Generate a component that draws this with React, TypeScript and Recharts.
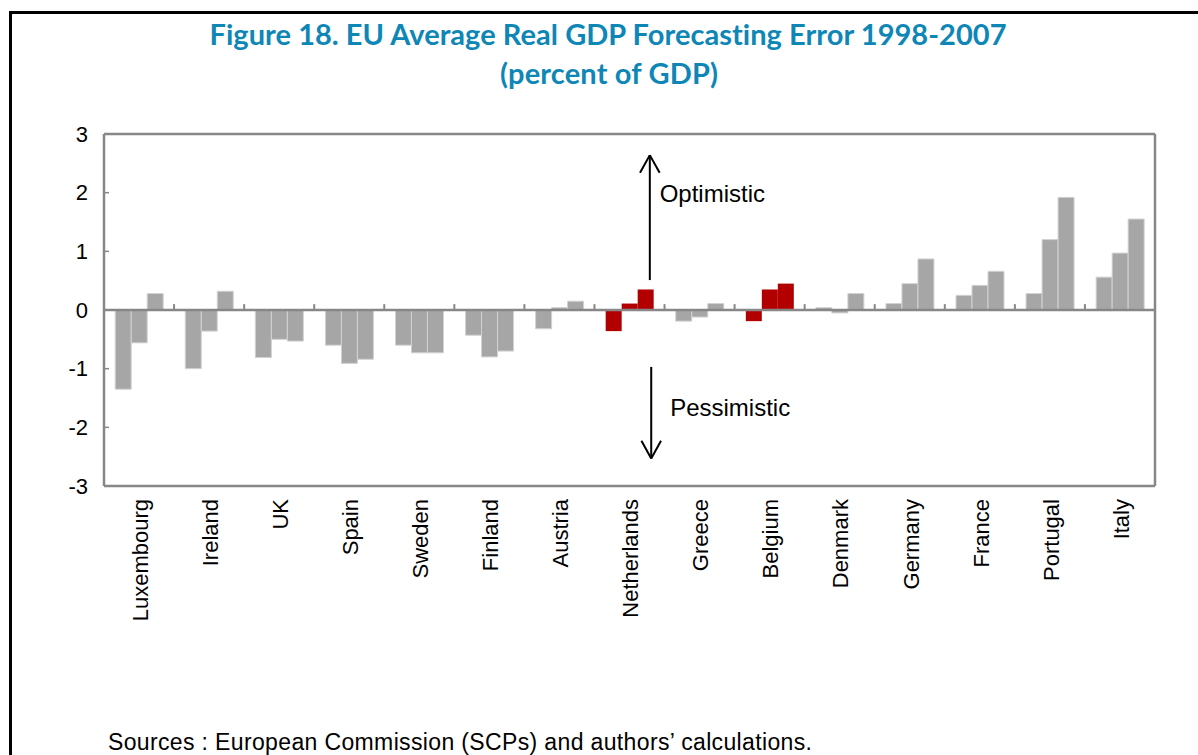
import React from 'react';
import {
  BarChart,
  Bar,
  Cell,
  XAxis,
  YAxis,
  ReferenceLine,
  ReferenceDot,
} from 'recharts';

// ---- data ----
const categories = [
  'Luxembourg', 'Ireland', 'UK', 'Spain', 'Sweden', 'Finland', 'Austria',
  'Netherlands', 'Greece', 'Belgium', 'Denmark', 'Germany', 'France', 'Portugal', 'Italy',
];
const horizon1 = [-1.35, -1.0, -0.81, -0.6, -0.6, -0.43, -0.32, -0.36, -0.19, -0.19, 0.04, 0.11, 0.25, 0.28, 0.56];
const horizon2 = [-0.56, -0.36, -0.5, -0.91, -0.73, -0.8, 0.04, 0.11, -0.12, 0.35, -0.05, 0.45, 0.42, 1.2, 0.97];
const horizon3 = [0.28, 0.32, -0.53, -0.84, -0.73, -0.7, 0.15, 0.35, 0.11, 0.45, 0.28, 0.87, 0.66, 1.92, 1.55];
const highlighted = ['Netherlands', 'Belgium'];
const yTicks = [-3, -2, -1, 0, 1, 2, 3];

const titleLine1 = 'Figure 18. EU Average Real GDP Forecasting Error 1998-2007';
const titleLine2 = '(percent of GDP)';
const sourceText = 'Sources : European Commission (SCPs) and authors\u2019 calculations.';
const upLabel = 'Optimistic';
const downLabel = 'Pessimistic';

const data = categories.map((name, i) => ({
  name,
  pos: i + 0.5,
  h1: horizon1[i],
  h2: horizon2[i],
  h3: horizon3[i],
}));

const GREY = '#A6A6A6';
const RED = '#B20000';
const AXIS = '#878787';
const FONT = '"Liberation Sans", Arial, sans-serif';
const TITLE_FONT = "Lato, 'Open Sans', sans-serif";

const CatTick = (props: any) => {
  const { x, y, payload } = props;
  return (
    <text
      x={x}
      y={y}
      transform={`rotate(-90, ${x}, ${y})`}
      textAnchor="end"
      dy="0.4em"
      fontSize={22}
      fontFamily={FONT}
      fill="#000"
    >
      {payload.value}
    </text>
  );
};

const boundaries = categories.slice(1).map((_, i) => i + 1);
const seriesKeys = ['h1', 'h2', 'h3'];

export default function App() {
  return (
    <div
      style={{
        position: 'absolute',
        left: 0,
        top: 0,
        width: 1198,
        height: 755,
        overflow: 'hidden',
        background: '#fff',
        fontFamily: FONT,
      }}
    >
      <div
        style={{
          position: 'absolute',
          left: 9,
          top: 11,
          width: 1300,
          height: 900,
          borderLeft: '3px solid #000',
          borderTop: '3px solid #000',
        }}
      />
      <div style={{ position: 'absolute', left: 0, top: 0 }}>
        <BarChart
          width={1198}
          height={755}
          data={data}
          margin={{ top: 133, right: 42, bottom: 69, left: 44 }}
          barCategoryGap="16%"
          barGap={0}
        >
          <XAxis
            dataKey="name"
            interval={0}
            tickLine={false}
            axisLine={{ stroke: AXIS, strokeWidth: 2.5 }}
            tickSize={0}
            tickMargin={13}
            height={200}
            tick={<CatTick />}
          />
          <XAxis
            xAxisId="top"
            dataKey="name"
            orientation="top"
            height={1}
            tick={false}
            tickLine={false}
            axisLine={{ stroke: AXIS, strokeWidth: 2.5 }}
          />
          <XAxis
            xAxisId="n"
            dataKey="pos"
            type="number"
            domain={[0, 15]}
            allowDataOverflow
            hide
          />
          <YAxis
            width={60}
            domain={[-3, 3]}
            ticks={yTicks}
            interval={0}
            axisLine={{ stroke: AXIS, strokeWidth: 2.5 }}
            tickSize={-5}
            tickMargin={21}
            tickLine={{ stroke: AXIS, strokeWidth: 1.5 }}
            tick={{ fontSize: 22, fill: '#000', fontFamily: FONT }}
          />
          <YAxis
            yAxisId="right"
            orientation="right"
            width={1}
            domain={[-3, 3]}
            tick={false}
            tickLine={false}
            axisLine={{ stroke: AXIS, strokeWidth: 2.5 }}
          />
          {seriesKeys.map((k) => (
            <Bar key={k} dataKey={k} isAnimationActive={false}>
              {data.map((d) => {
                const hi = highlighted.includes(d.name);
                return (
                  <Cell
                    key={d.name}
                    fill={hi ? RED : GREY}
                    stroke={hi ? RED : '#D2D2D2'}
                    strokeWidth={hi ? 0 : 1}
                  />
                );
              })}
            </Bar>
          ))}
          <ReferenceLine y={0} stroke={AXIS} strokeWidth={2.5} />
          {boundaries.map((b) => (
            <ReferenceLine
              key={`b${b}`}
              xAxisId="n"
              segment={[{ x: b, y: 0 }, { x: b, y: 0.1 }]}
              stroke={AXIS}
              strokeWidth={2}
              ifOverflow="visible"
            />
          ))}
          {/* Optimistic arrow */}
          <ReferenceLine xAxisId="n" segment={[{ x: 7.79, y: 0.51 }, { x: 7.79, y: 2.64 }]} stroke="#000" strokeWidth={2} ifOverflow="visible" />
          <ReferenceLine xAxisId="n" segment={[{ x: 7.79, y: 2.64 }, { x: 7.65, y: 2.34 }]} stroke="#000" strokeWidth={2} ifOverflow="visible" />
          <ReferenceLine xAxisId="n" segment={[{ x: 7.79, y: 2.64 }, { x: 7.93, y: 2.34 }]} stroke="#000" strokeWidth={2} ifOverflow="visible" />
          {/* Pessimistic arrow */}
          <ReferenceLine xAxisId="n" segment={[{ x: 7.81, y: -0.97 }, { x: 7.81, y: -2.53 }]} stroke="#000" strokeWidth={2} ifOverflow="visible" />
          <ReferenceLine xAxisId="n" segment={[{ x: 7.81, y: -2.53 }, { x: 7.67, y: -2.23 }]} stroke="#000" strokeWidth={2} ifOverflow="visible" />
          <ReferenceLine xAxisId="n" segment={[{ x: 7.81, y: -2.53 }, { x: 7.95, y: -2.23 }]} stroke="#000" strokeWidth={2} ifOverflow="visible" />
          <ReferenceDot
            xAxisId="n"
            x={7.93}
            y={1.84}
            r={0}
            fill="none"
            stroke="none"
            ifOverflow="visible"
            label={(p: any) => (
              <text x={p.viewBox.x} y={p.viewBox.y} fontSize={24} fontFamily={FONT} fill="#000">
                {upLabel}
              </text>
            )}
          />
          <ReferenceDot
            xAxisId="n"
            x={8.08}
            y={-1.8}
            r={0}
            fill="none"
            stroke="none"
            ifOverflow="visible"
            label={(p: any) => (
              <text x={p.viewBox.x} y={p.viewBox.y} fontSize={24} fontFamily={FONT} fill="#000">
                {downLabel}
              </text>
            )}
          />
        </BarChart>
      </div>
      <svg
        width={1198}
        height={755}
        style={{ position: 'absolute', left: 0, top: 0, pointerEvents: 'none' }}
      >
        <text
          x={608}
          y={45}
          textAnchor="middle"
          fontFamily={TITLE_FONT}
          fontWeight={700}
          fontSize={29}
          fill="#0E86B6"
          textLength={797}
          style={{ fontVariantLigatures: 'none' }}
        >
          {titleLine1}
        </text>
        <text
          x={609}
          y={84}
          textAnchor="middle"
          fontFamily={TITLE_FONT}
          fontWeight={700}
          fontSize={29}
          fill="#0E86B6"
          textLength={218}
          style={{ fontVariantLigatures: 'none' }}
        >
          {titleLine2}
        </text>
        <text x={108} y={750} fontFamily={FONT} fontSize={23} fill="#000" textLength={704}>
          {sourceText}
        </text>
      </svg>
    </div>
  );
}
